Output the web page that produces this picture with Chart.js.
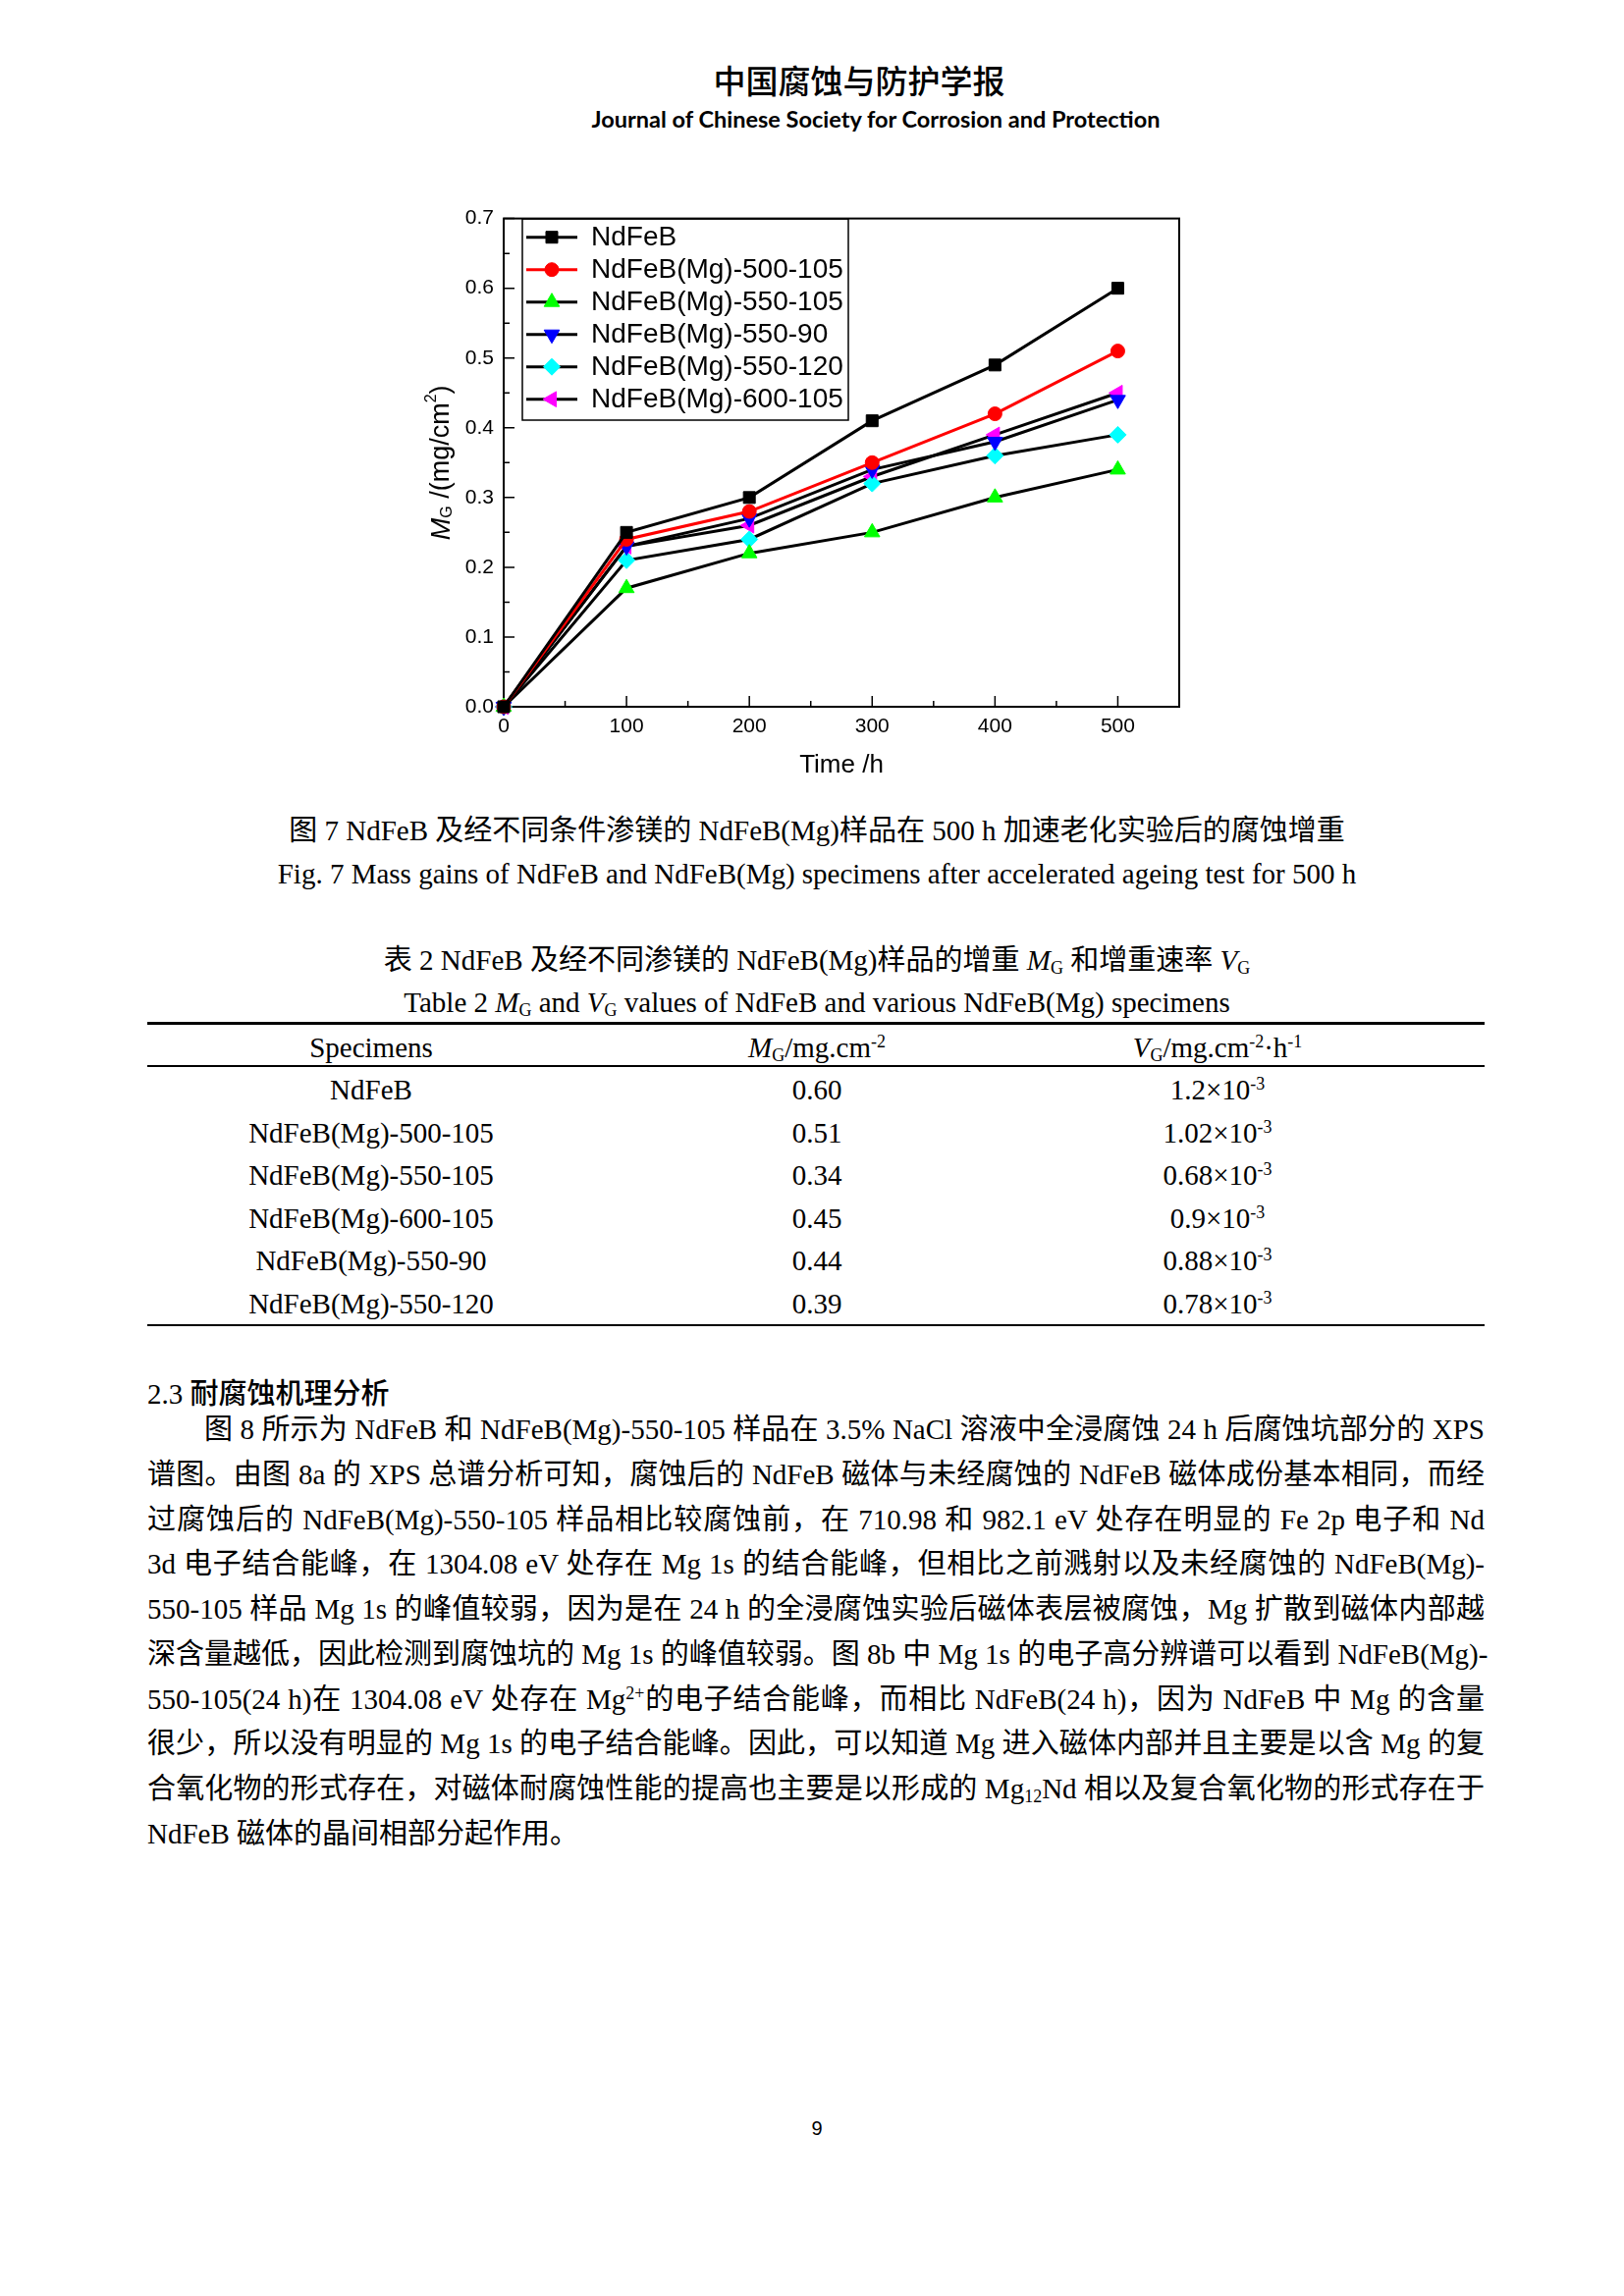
<!DOCTYPE html>
<html>
<head>
<meta charset="utf-8">
<title>图7 NdFeB 腐蚀增重</title>
<script src="https://cdn.jsdelivr.net/npm/chart.js@4.4.1/dist/chart.umd.min.js"></script>
<style>
    body { margin: 0; background: #fff; }
    #page { position: relative; width: 1654px; height: 2339px; background: #fff; color: #000;
        font-family: "Liberation Serif", "Noto Sans CJK SC", serif; font-size: 29px; }
    .t { position: absolute; white-space: nowrap; line-height: 36px; height: 36px; }
    .c { transform: translateX(-50%); }
    .rule { position: absolute; left: 150px; width: 1362px; background: #000; }
    .line { position: absolute; left: 150px; width: 1362px; line-height: 36px; height: 36px;
        text-align: justify; text-align-last: justify; white-space: nowrap; }
    sub, sup { font-size: 62%; line-height: 0; }
    sub { vertical-align: -0.2em; }
    sup { vertical-align: 0.55em; }
    #chartBox { position: absolute; left: 420px; top: 200px; width: 800px; height: 600px; }
</style>
</head>
<body>
<div id="page">
    <div class="t c" style="left:875px; top:63px; font-family:'Noto Sans CJK SC'; font-weight:500; font-size:33px;">中国腐蚀与防护学报</div>
    <div class="t c" style="left:892px; top:103px; font-family:'Lato'; font-weight:700; font-size:23.5px;">Journal of Chinese Society for Corrosion and Protection</div>

    <div id="chartBox"><canvas id="chart7"></canvas></div>

    <div class="t c" style="left:832px; top:828px;">图 7 NdFeB 及经不同条件渗镁的 NdFeB(Mg)样品在 500 h 加速老化实验后的腐蚀增重</div>
    <div class="t c" style="left:832px; top:872px;">Fig. 7 Mass gains of NdFeB and NdFeB(Mg) specimens after accelerated ageing test for 500 h</div>

    <div class="t c" style="left:832px; top:960px;">表 2 NdFeB 及经不同渗镁的 NdFeB(Mg)样品的增重 <i>M</i><sub>G</sub> 和增重速率 <i>V</i><sub>G</sub></div>
    <div class="t c" style="left:832px; top:1003px;">Table 2 <i>M</i><sub>G</sub> and <i>V</i><sub>G</sub> values of NdFeB and various NdFeB(Mg) specimens</div>

    <div class="rule" style="top:1041px; height:3px;"></div>
    <div class="t c" style="left:378px; top:1049px;">Specimens</div>
    <div class="t c" style="left:832px; top:1049px;"><i>M</i><sub>G</sub>/mg.cm<sup>-2</sup></div>
    <div class="t c" style="left:1240px; top:1049px;"><i>V</i><sub>G</sub>/mg.cm<sup>-2</sup>·h<sup>-1</sup></div>
    <div class="rule" style="top:1085px; height:2px;"></div>
    <div id="tableRows"></div>
    <div class="rule" style="top:1349px; height:2px;"></div>

    <div class="t" style="left:150px; top:1399px;">2.3 <span style="font-family:'Noto Sans CJK SC'; font-weight:500;">耐腐蚀机理分析</span></div>
    <div class="line" style="top:1438px; left:208px; width:1304px;">图 8 所示为 NdFeB 和 NdFeB(Mg)-550-105 样品在 3.5% NaCl 溶液中全浸腐蚀 24 h 后腐蚀坑部分的 XPS</div>
    <div class="line" style="top:1484px;">谱图。由图 8a 的 XPS 总谱分析可知，腐蚀后的 NdFeB 磁体与未经腐蚀的 NdFeB 磁体成份基本相同，而经</div>
    <div class="line" style="top:1530px;">过腐蚀后的 NdFeB(Mg)-550-105 样品相比较腐蚀前，在 710.98 和 982.1 eV 处存在明显的 Fe 2p 电子和 Nd</div>
    <div class="line" style="top:1575px;">3d 电子结合能峰，在 1304.08 eV 处存在 Mg 1s 的结合能峰，但相比之前溅射以及未经腐蚀的 NdFeB(Mg)-</div>
    <div class="line" style="top:1621px;">550-105 样品 Mg 1s 的峰值较弱，因为是在 24 h 的全浸腐蚀实验后磁体表层被腐蚀，Mg 扩散到磁体内部越</div>
    <div class="line" style="top:1667px;">深含量越低，因此检测到腐蚀坑的 Mg 1s 的峰值较弱。图 8b 中 Mg 1s 的电子高分辨谱可以看到 NdFeB(Mg)-</div>
    <div class="line" style="top:1713px;">550-105(24 h)在 1304.08 eV 处存在 Mg<sup>2+</sup>的电子结合能峰，而相比 NdFeB(24 h)，因为 NdFeB 中 Mg 的含量</div>
    <div class="line" style="top:1758px;">很少，所以没有明显的 Mg 1s 的电子结合能峰。因此，可以知道 Mg 进入磁体内部并且主要是以含 Mg 的复</div>
    <div class="line" style="top:1804px;">合氧化物的形式存在，对磁体耐腐蚀性能的提高也主要是以形成的 Mg<sub>12</sub>Nd 相以及复合氧化物的形式存在于</div>
    <div class="line" style="top:1850px; text-align:left; text-align-last:left;">NdFeB 磁体的晶间相部分起作用。</div>

    <div class="t c" style="left:832px; top:2150px; font-family:'Liberation Sans'; font-size:20px;">9</div>
</div>

<script>
    // 时间 /h
    var hours = [0, 100, 200, 300, 400, 500];

    // 各样品增重 MG (mg/cm2)
    var ndfeb = [0, 0.25, 0.30, 0.41, 0.49, 0.60];
    var mg500_105 = [0, 0.24, 0.28, 0.35, 0.42, 0.51];
    var mg550_105 = [0, 0.17, 0.22, 0.25, 0.30, 0.34];
    var mg550_90 = [0, 0.23, 0.27, 0.34, 0.38, 0.44];
    var mg550_120 = [0, 0.21, 0.24, 0.32, 0.36, 0.39];
    var mg600_105 = [0, 0.23, 0.26, 0.33, 0.39, 0.45];

    var seriesNames = ['NdFeB', 'NdFeB(Mg)-500-105', 'NdFeB(Mg)-550-105',
        'NdFeB(Mg)-550-90', 'NdFeB(Mg)-550-120', 'NdFeB(Mg)-600-105'];

    var yTicks = [0, 0.1, 0.2, 0.3, 0.4, 0.5, 0.6, 0.7];

    // 表 2
    var tableSpecimens = ['NdFeB', 'NdFeB(Mg)-500-105', 'NdFeB(Mg)-550-105',
        'NdFeB(Mg)-600-105', 'NdFeB(Mg)-550-90', 'NdFeB(Mg)-550-120'];
    var tableMG = ['0.60', '0.51', '0.34', '0.45', '0.44', '0.39'];
    var tableVG = ['1.2', '1.02', '0.68', '0.9', '0.88', '0.78'];

    var rowsHtml = '';
    for (var i = 0; i < tableSpecimens.length; i++) {
        var rowTop = 1092 + i * 43.5;
        rowsHtml += '<div class="t c" style="left:378px; top:' + rowTop + 'px;">' + tableSpecimens[i] + '</div>';
        rowsHtml += '<div class="t c" style="left:832px; top:' + rowTop + 'px;">' + tableMG[i] + '</div>';
        rowsHtml += '<div class="t c" style="left:1240px; top:' + rowTop + 'px;">' + tableVG[i] + '×10<sup>-3</sup></div>';
    }
    document.getElementById('tableRows').innerHTML = rowsHtml;

    function toPoints(values) {
        return hours.map(function (h, k) { return { x: h, y: values[k] }; });
    }

    function series(k, values, lineColor, markColor, style, rot, radius) {
        return {
            label: seriesNames[k],
            data: toPoints(values),
            borderColor: lineColor,
            borderWidth: 3,
            pointStyle: style,
            pointRotation: rot,
            pointRadius: radius,
            pointHoverRadius: radius,
            pointBackgroundColor: markColor,
            pointBorderColor: markColor,
            pointBorderWidth: 1,
            tension: 0,
            clip: false
        };
    }

    var datasets = [
        series(0, ndfeb, '#000000', '#000000', 'rect', 0, 8.5),
        series(1, mg500_105, '#ff0000', '#ff0000', 'circle', 0, 7),
        series(2, mg550_105, '#000000', '#00ff00', 'triangle', 0, 9),
        series(3, mg550_90, '#000000', '#0000ff', 'triangle', 180, 9),
        series(4, mg550_120, '#000000', '#00ffff', 'rectRot', 0, 8.5),
        series(5, mg600_105, '#000000', '#ff00ff', 'triangle', -90, 9)
    ];

    // 边框、朝内刻度、坐标轴标题
    var frameAndTicks = {
        id: 'frameAndTicks',
        beforeDatasetsDraw: function (chart) {
            var ctx = chart.ctx, a = chart.chartArea;
            var xs = chart.scales.x, ys = chart.scales.y;
            ctx.save();
            ctx.strokeStyle = '#000';
            ctx.lineWidth = 2;
            ctx.strokeRect(a.left, a.top, a.right - a.left, a.bottom - a.top);
            ctx.lineWidth = 1.5;
            ctx.beginPath();
            for (var v = 0; v <= 550; v += 50) {
                var px = xs.getPixelForValue(v);
                var len = (v % 100 === 0) ? 11 : 6;
                ctx.moveTo(px, a.bottom);
                ctx.lineTo(px, a.bottom - len);
            }
            for (var j = 0; j <= 14; j++) {
                var py = ys.getPixelForValue(j * 0.05);
                var l2 = (j % 2 === 0) ? 11 : 6;
                ctx.moveTo(a.left, py);
                ctx.lineTo(a.left + l2, py);
            }
            ctx.stroke();

            // x 轴标题
            ctx.fillStyle = '#000';
            ctx.font = '26px "Liberation Sans"';
            ctx.textAlign = 'center';
            ctx.textBaseline = 'middle';
            ctx.fillText('Time /h', (a.left + a.right) / 2, 580);

            // y 轴标题 MG/(mg/cm2)
            ctx.translate(30, (a.top + a.bottom) / 2);
            ctx.rotate(-Math.PI / 2);
            var parts = [
                { s: 'M', f: 'italic 27px "Liberation Sans"', dy: 0 },
                { s: 'G', f: '16px "Liberation Sans"', dy: 6 },
                { s: ' /(mg/cm', f: '27px "Liberation Sans"', dy: 0 },
                { s: '2', f: '16px "Liberation Sans"', dy: -10 },
                { s: ')', f: '27px "Liberation Sans"', dy: 0 }
            ];
            var total = 0;
            parts.forEach(function (p) { ctx.font = p.f; p.w = ctx.measureText(p.s).width; total += p.w; });
            var cx = -total / 2;
            ctx.textAlign = 'left';
            parts.forEach(function (p) {
                ctx.font = p.f;
                ctx.fillText(p.s, cx, p.dy);
                cx += p.w;
            });
            ctx.restore();
        }
    };

    // 图例（线 + 符号）
    var lineLegend = {
        id: 'lineLegend',
        afterDraw: function (chart) {
            var ctx = chart.ctx;
            ctx.save();
            ctx.strokeStyle = '#000';
            ctx.lineWidth = 1.5;
            ctx.strokeRect(112, 23, 332, 205);
            ctx.font = '28px "Liberation Sans"';
            ctx.textBaseline = 'middle';
            ctx.textAlign = 'left';
            chart.data.datasets.forEach(function (ds, k) {
                var y = 41.7 + k * 33;
                ctx.strokeStyle = ds.borderColor;
                ctx.lineWidth = 3;
                ctx.beginPath();
                ctx.moveTo(116, y);
                ctx.lineTo(168, y);
                ctx.stroke();
                ctx.fillStyle = ds.pointBackgroundColor;
                ctx.strokeStyle = ds.pointBorderColor;
                ctx.lineWidth = 1;
                Chart.helpers.drawPoint(ctx, {
                    pointStyle: ds.pointStyle,
                    rotation: ds.pointRotation,
                    radius: ds.pointRadius,
                    borderWidth: 1
                }, 142, y);
                ctx.fillStyle = '#000';
                ctx.fillText(ds.label, 182, y + 1);
            });
            ctx.restore();
        }
    };

    const chart7 = new Chart(document.getElementById('chart7'), {
        type: 'line',
        data: { datasets: datasets },
        options: {
            responsive: true,
            maintainAspectRatio: false,
            animation: false,
            layout: { padding: { top: 13, right: 19, left: 0, bottom: 0 } },
            plugins: { legend: { display: false }, tooltip: { enabled: false } },
            scales: {
                x: {
                    type: 'linear',
                    min: 0,
                    max: 550,
                    grid: { display: false, drawTicks: false },
                    border: { display: false },
                    ticks: {
                        stepSize: 100,
                        includeBounds: false,
                        padding: 8,
                        maxRotation: 0,
                        color: '#000',
                        font: { family: 'Liberation Sans', size: 21 }
                    },
                    afterFit: function (s) { s.height = 80; }
                },
                y: {
                    min: 0,
                    max: 0.7,
                    grid: { display: false, drawTicks: false },
                    border: { display: false },
                    afterBuildTicks: function (s) {
                        s.ticks = yTicks.map(function (v) { return { value: v }; });
                    },
                    ticks: {
                        padding: 10,
                        color: '#000',
                        font: { family: 'Liberation Sans', size: 21 },
                        callback: function (v) { return Number(v).toFixed(1); }
                    },
                    afterFit: function (s) { s.width = 93; }
                }
            }
        },
        plugins: [frameAndTicks, lineLegend]
    });
</script>
</body>
</html>
